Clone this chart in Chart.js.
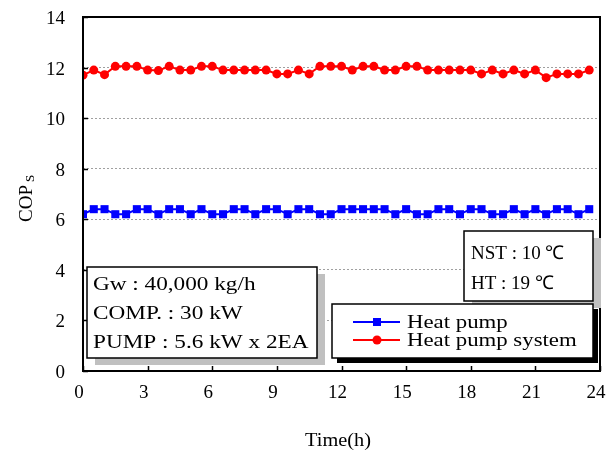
<!DOCTYPE html>
<html>
<head>
<meta charset="utf-8">
<script src="https://cdn.jsdelivr.net/npm/chart.js@4.4.0/dist/chart.umd.min.js"></script>
<style>
  html, body { margin: 0; padding: 0; background: #fff; }
  canvas { display: block; }
</style>
</head>
<body>
<canvas id="myChart" width="608" height="455"></canvas>
<script>
// time (h)
var times = [0, 0.5, 1, 1.5, 2, 2.5, 3, 3.5, 4, 4.5, 5, 5.5, 6, 6.5, 7, 7.5,
	8, 8.5, 9, 9.5, 10, 10.5, 11, 11.5, 12, 12.5, 13, 13.5, 14, 14.5, 15, 15.5,
	16, 16.5, 17, 17.5, 18, 18.5, 19, 19.5, 20, 20.5, 21, 21.5, 22, 22.5, 23, 23.5];

var heatPump = [6.2, 6.4, 6.4, 6.2, 6.2, 6.4, 6.4, 6.2, 6.4, 6.4, 6.2, 6.4, 6.2, 6.2, 6.4, 6.4,
	6.2, 6.4, 6.4, 6.2, 6.4, 6.4, 6.2, 6.2, 6.4, 6.4, 6.4, 6.4, 6.4, 6.2, 6.4, 6.2,
	6.2, 6.4, 6.4, 6.2, 6.4, 6.4, 6.2, 6.2, 6.4, 6.2, 6.4, 6.2, 6.4, 6.4, 6.2, 6.4];

var heatPumpSystem = [11.7, 11.9, 11.72, 12.05, 12.05, 12.05, 11.9, 11.88, 12.05, 11.9, 11.9, 12.05, 12.05, 11.9, 11.9, 11.9,
	11.9, 11.9, 11.75, 11.75, 11.9, 11.75, 12.05, 12.05, 12.05, 11.9, 12.05, 12.05, 11.9, 11.9, 12.05, 12.05,
	11.9, 11.9, 11.9, 11.9, 11.9, 11.75, 11.9, 11.75, 11.9, 11.75, 11.9, 11.6, 11.75, 11.75, 11.75, 11.9];

var xTicks = [0, 3, 6, 9, 12, 15, 18, 21, 24];
var yTicks = [0, 2, 4, 6, 8, 10, 12, 14];

var seriesNames = ['Heat pump', 'Heat pump system'];
var infoLines = ['Gw : 40,000 kg/h', 'COMP. : 30 kW', 'PUMP : 5.6 kW x 2EA'];
var condLines = ['NST : 10 \u2103', 'HT : 19 \u2103'];

var FONT = '"Liberation Serif", "Times New Roman", serif';

function toPoints(ys) {
	return times.map(function (t, i) { return { x: t, y: ys[i] }; });
}

function textBox(ctx, x, y, w, h, shadowColor, sx, sy) {
	ctx.fillStyle = shadowColor;
	ctx.fillRect(x + sx, y + sy, w, h);
	ctx.fillStyle = '#fff';
	ctx.fillRect(x, y, w, h);
	ctx.strokeStyle = '#000';
	ctx.lineWidth = 1.5;
	ctx.strokeRect(x, y, w, h);
}

// the original font is wider than Liberation Serif, so stretch it a bit
function wideText(ctx, s, x, y, k) {
	ctx.save();
	ctx.translate(x, y);
	ctx.scale(k, 1);
	ctx.fillText(s, 0, 0);
	ctx.restore();
}

var decor = {
	id: 'decor',
	afterDraw: function (chart) {
		var ctx = chart.ctx;
		var a = chart.chartArea;
		var xs = chart.scales.x, ys = chart.scales.y;
		ctx.save();

		// frame
		ctx.strokeStyle = '#000';
		ctx.lineWidth = 2;
		ctx.strokeRect(a.left, a.top, a.right - a.left, a.bottom - a.top);

		// inside ticks
		ctx.lineWidth = 1.5;
		ctx.beginPath();
		xTicks.forEach(function (v) {
			var px = Math.round(xs.getPixelForValue(v)) + 0.5;
			ctx.moveTo(px, a.bottom);
			ctx.lineTo(px, a.bottom - 5);
		});
		yTicks.forEach(function (v) {
			var py = Math.round(ys.getPixelForValue(v)) + 0.5;
			ctx.moveTo(a.left, py);
			ctx.lineTo(a.left + 5, py);
		});
		ctx.stroke();

		// axis titles
		ctx.fillStyle = '#000';
		ctx.font = '19px ' + FONT;
		ctx.textAlign = 'left';
		ctx.textBaseline = 'alphabetic';
		var tw = ctx.measureText('Time(h)').width * 1.07;
		wideText(ctx, 'Time(h)', 338 - tw / 2, 446, 1.07);

		ctx.save();
		ctx.translate(32, 222);
		ctx.rotate(-Math.PI / 2);
		ctx.textAlign = 'left';
		ctx.font = '19px ' + FONT;
		ctx.fillText('COP', 0, 0);
		var w = ctx.measureText('COP').width;
		ctx.font = '13px ' + FONT;
		ctx.fillText('S', w + 3, 2);
		ctx.restore();

		// info box
		textBox(ctx, 87, 267, 230, 91, '#c0c0c0', 8, 7);
		ctx.fillStyle = '#000';
		ctx.font = '18px ' + FONT;
		ctx.textAlign = 'left';
		ctx.textBaseline = 'middle';
		infoLines.forEach(function (s, i) {
			wideText(ctx, s, 93, 285 + i * 29, 1.29);
		});

		// condition box
		textBox(ctx, 464, 231, 129, 70, '#c0c0c0', 8, 7);
		ctx.fillStyle = '#000';
		ctx.font = '19px ' + FONT;
		condLines.forEach(function (s, i) {
			ctx.fillText(s, 471, 254 + i * 30);
		});

		// legend
		textBox(ctx, 332, 304, 261, 54, '#000', 5, 5);
		var ds = chart.data.datasets;
		[322, 340].forEach(function (ly, i) {
			ctx.strokeStyle = ds[i].borderColor;
			ctx.lineWidth = 2;
			ctx.beginPath();
			ctx.moveTo(353, ly);
			ctx.lineTo(400, ly);
			ctx.stroke();
			ctx.fillStyle = ds[i].borderColor;
			if (i === 0) {
				ctx.fillRect(373, ly - 4, 8, 8);
			} else {
				ctx.beginPath();
				ctx.arc(377, ly, 4.5, 0, Math.PI * 2);
				ctx.fill();
			}
			ctx.fillStyle = '#000';
			ctx.font = '19px ' + FONT;
			wideText(ctx, seriesNames[i], 407, ly + 1, 1.2);
		});

		ctx.restore();
	}
};

const ctx = document.getElementById('myChart');
new Chart(ctx, {
	type: 'line',
	data: {
		datasets: [{
			label: seriesNames[0],
			data: toPoints(heatPump),
			borderColor: '#0000ff',
			backgroundColor: '#0000ff',
			borderWidth: 2,
			pointStyle: 'rect',
			pointRadius: 5.7,
			pointBorderWidth: 0,
			tension: 0
		}, {
			label: seriesNames[1],
			data: toPoints(heatPumpSystem),
			borderColor: '#ff0000',
			backgroundColor: '#ff0000',
			borderWidth: 2,
			pointStyle: 'circle',
			pointRadius: 4.5,
			pointBorderWidth: 0,
			tension: 0
		}]
	},
	options: {
		responsive: false,
		animation: false,
		layout: { padding: { top: 17, right: 8, left: 0, bottom: 0 } },
		plugins: {
			legend: { display: false },
			tooltip: { enabled: false }
		},
		scales: {
			x: {
				type: 'linear',
				min: 0,
				max: 24,
				afterBuildTicks: function (s) { s.ticks = xTicks.map(function (v) { return { value: v }; }); },
				afterFit: function (s) { s.height = 84; s.paddingLeft = 0; s.paddingRight = 0; },
				ticks: { color: '#000', font: { family: FONT, size: 19 }, padding: 11, labelOffset: -4, maxRotation: 0 },
				grid: { display: false, drawTicks: false },
				border: { display: false }
			},
			y: {
				min: 0,
				max: 14,
				afterBuildTicks: function (s) { s.ticks = yTicks.map(function (v) { return { value: v }; }); },
				afterFit: function (s) { s.width = 83; s.paddingTop = 0; s.paddingBottom = 0; },
				ticks: { color: '#000', font: { family: FONT, size: 19 }, padding: 18, labelOffset: 2 },
				grid: { color: '#a0a0a0', lineWidth: 1, drawTicks: false },
				border: { display: false, dash: [2, 2] }
			}
		}
	},
	plugins: [decor]
});
</script>
</body>
</html>
